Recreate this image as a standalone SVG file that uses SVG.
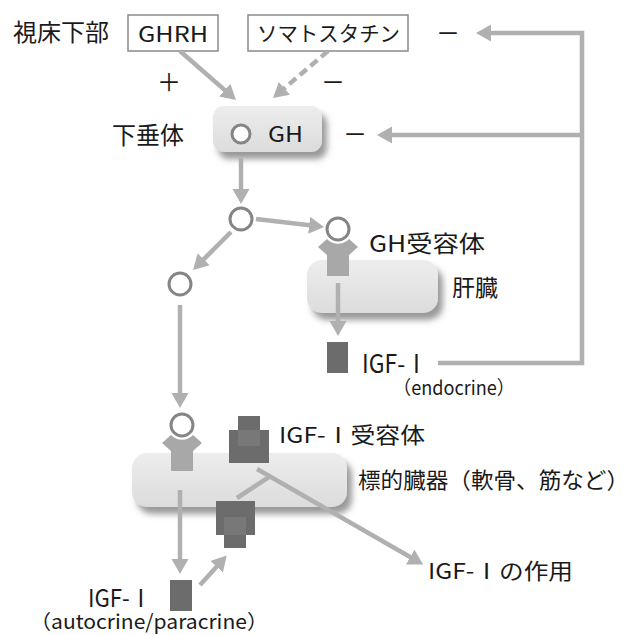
<svg xmlns="http://www.w3.org/2000/svg" width="632" height="635" viewBox="0 0 632 635">
<style>
text{font-family:"Noto Sans CJK JP","Noto Sans",sans-serif;fill:#1a1a1a}
.sign{font-size:24px;text-anchor:middle}
.conn{fill:none;stroke:#b0b0b0;stroke-width:4.5;marker-end:url(#ah)}
.fb{fill:none;stroke:#b0b0b0;stroke-width:4.5}
.dash{stroke-dasharray:9 5}
.ring{fill:#fff;stroke:#858585;stroke-width:3}
.rec{fill:#a8a8a8}
.dk{fill:#6c6c6c}
.dk2{fill:#787878}
.organ{fill:url(#og);filter:url(#sh)}
.hbox{fill:#fff;stroke:#8a8a8a;stroke-width:1.5}
</style>
<defs>
<linearGradient id="og" x1="0" y1="0" x2="0" y2="1">
<stop offset="0" stop-color="#ededed"/>
<stop offset="1" stop-color="#dcdcdc"/>
</linearGradient>
<filter id="sh" x="-20%" y="-30%" width="150%" height="170%">
<feDropShadow dx="5" dy="7" stdDeviation="3" flood-color="#555" flood-opacity="0.6"/>
</filter>
<marker id="ah" markerUnits="userSpaceOnUse" markerWidth="16" markerHeight="18" refX="5" refY="8.5" orient="auto">
<path d="M0,0 L15,8.5 L0,17 Z" fill="#b0b0b0"/>
</marker>
</defs>

<g id="hypothalamus">
<text x="13" y="41" font-size="24">視床下部</text>
</g>
<g id="ghrh">
<rect class="hbox" x="128" y="15" width="90" height="36"/>
<text x="138" y="42" font-size="21" textLength="70" lengthAdjust="spacingAndGlyphs">GHRH</text>
</g>
<g id="somatostatin">
<rect class="hbox" x="248" y="15" width="160" height="36"/>
<text x="257" y="41" font-size="21" textLength="143" lengthAdjust="spacingAndGlyphs">ソマトスタチン</text>
</g>

<g id="pituitary">
<text x="112" y="144" font-size="24">下垂体</text>
<rect class="organ" x="213" y="106" width="109" height="46" rx="11"/>
<circle class="ring" cx="241" cy="134" r="9"/>
<text x="268" y="142" font-size="22" textLength="35" lengthAdjust="spacingAndGlyphs">GH</text>
</g>

<g id="liver">
<rect class="organ" x="307" y="260" width="131" height="53" rx="15"/>
<text x="452" y="296" font-size="23">肝臓</text>
</g>

<g id="target-organ">
<rect class="organ" x="132" y="453" width="215" height="54" rx="15"/>
<text x="358" y="488" font-size="22" textLength="271" lengthAdjust="spacingAndGlyphs">標的臓器（軟骨、筋など）</text>
</g>

<g id="connectors">
<line class="conn" x1="180" y1="51" x2="228.5" y2="93.4"/>
<line class="conn dash" x1="328" y1="51" x2="280.6" y2="91.5"/>
<polyline class="conn" points="438,363 582,363 582,33 486,33"/>
<line class="conn" x1="582" y1="135" x2="387" y2="135"/>
<line class="conn" x1="241" y1="158" x2="241" y2="194"/>
<line class="conn" x1="256" y1="219" x2="314.1" y2="225.8"/>
<line class="conn" x1="231" y1="232" x2="200.1" y2="262.9"/>
<line class="conn" x1="180" y1="305" x2="180" y2="398"/>
<line class="conn" x1="338" y1="283" x2="338" y2="326"/>
<line class="conn" x1="180" y1="490" x2="180" y2="564"/>
<line class="conn" x1="200" y1="585" x2="220" y2="563"/>
<line class="fb" x1="237" y1="498" x2="269" y2="477"/>
<line class="conn" x1="257" y1="469" x2="414.5" y2="559.5"/>
</g>

<g id="signs">
<text class="sign" x="448" y="42">－</text>
<text class="sign" x="169" y="91">＋</text>
<text class="sign" x="333" y="91">－</text>
<text class="sign" x="355" y="143">－</text>
</g>

<g id="gh-circle-1">
<circle class="ring" cx="241" cy="219" r="11"/>
</g>
<g id="gh-circle-2">
<circle class="ring" cx="180" cy="284" r="11"/>
</g>

<g id="gh-receptor-liver">
<path class="rec" d="M327,239 L318,247 L327,255 L327,276 L349,276 L349,255 L358,247 L349,239 A15,15 0 0 1 327,239 Z"/>
<circle class="ring" cx="338" cy="229" r="11"/>
<text x="369" y="252" font-size="23" textLength="116" lengthAdjust="spacingAndGlyphs">GH受容体</text>
</g>

<g id="igf1-endocrine">
<rect class="dk" x="327" y="342" width="21" height="31"/>
<text x="362" y="373" font-size="25" textLength="66" lengthAdjust="spacingAndGlyphs">IGF-Ⅰ</text>
<text x="393" y="395" font-size="19" textLength="122" lengthAdjust="spacingAndGlyphs">（endocrine）</text>
</g>

<g id="gh-receptor-target">
<path class="rec" d="M171,435 L162,443 L171,451 L171,471 L193,471 L193,451 L202,443 L193,435 A15,15 0 0 1 171,435 Z"/>
<circle class="ring" cx="182" cy="425" r="11"/>
</g>

<g id="igf1-receptor">
<rect class="dk" x="238" y="416" width="22" height="16"/>
<rect class="dk" x="229" y="430" width="40" height="33"/>
<rect class="dk2" x="238" y="430" width="22" height="16"/>
<text x="279" y="443" font-size="22" textLength="146" lengthAdjust="spacingAndGlyphs">IGF-Ⅰ受容体</text>
</g>

<g id="igf1-receptor-2">
<rect class="dk" x="216" y="501" width="39" height="34"/>
<rect class="dk" x="224" y="533" width="22" height="15"/>
<rect class="dk2" x="224" y="517" width="22" height="18"/>
</g>

<g id="igf1-auto">
<rect class="dk" x="170" y="580" width="22" height="31"/>
<text x="88" y="607" font-size="24" textLength="64" lengthAdjust="spacingAndGlyphs">IGF-Ⅰ</text>
<text x="30" y="629" font-size="20" textLength="238" lengthAdjust="spacingAndGlyphs">（autocrine/paracrine）</text>
</g>

<g id="igf1-action">
<text x="428" y="579" font-size="22" textLength="145" lengthAdjust="spacingAndGlyphs">IGF-Ⅰの作用</text>
</g>
</svg>
